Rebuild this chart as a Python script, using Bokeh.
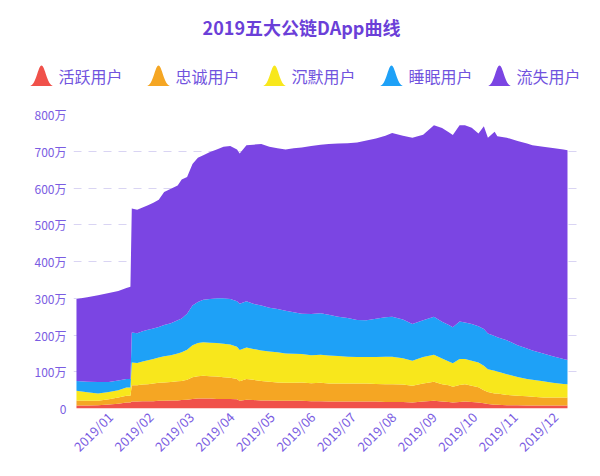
import numpy as np
import pandas as pd
from math import pi
from bokeh.plotting import figure
from bokeh.layouts import column, row
from bokeh.models import Range1d, FixedTicker, DatetimeTickFormatter, ColumnDataSource
from bokeh.core.properties import value
from bokeh.embed import file_html
from bokeh.resources import INLINE

# ---------------- data ----------------
title_text = "2019五大公链DApp曲线"
series_names = ["活跃用户", "忠诚用户", "沉默用户", "睡眠用户", "流失用户"]
series_colors = ["#F0514A", "#F5A623", "#F8E71C", "#1EA1F7", "#7B45E3"]

dates = ["2019-01-01", "2019-01-09", "2019-01-17", "2019-01-25", "2019-02-01", "2019-02-07",
         "2019-02-10", "2019-02-11", "2019-02-15", "2019-02-19", "2019-02-23", "2019-02-27",
         "2019-03-03", "2019-03-07", "2019-03-12", "2019-03-17", "2019-03-20", "2019-03-24",
         "2019-03-28", "2019-04-01", "2019-04-05", "2019-04-10", "2019-04-15", "2019-04-20",
         "2019-04-25", "2019-04-30", "2019-05-02", "2019-05-07", "2019-05-12", "2019-05-18",
         "2019-05-24", "2019-05-30", "2019-06-05", "2019-06-11", "2019-06-17", "2019-06-24",
         "2019-07-01", "2019-07-07", "2019-07-14", "2019-07-21", "2019-07-28", "2019-08-04",
         "2019-08-11", "2019-08-18", "2019-08-23", "2019-08-31", "2019-09-07", "2019-09-15",
         "2019-09-23", "2019-09-29", "2019-10-04", "2019-10-07", "2019-10-12", "2019-10-16",
         "2019-10-21", "2019-10-26", "2019-10-30", "2019-11-02", "2019-11-07", "2019-11-09",
         "2019-11-16", "2019-11-24", "2019-12-01", "2019-12-05", "2019-12-13", "2019-12-20",
         "2019-12-28", "2019-12-31"]

# values in 万
active = [8, 8, 9, 11, 13, 16, 16, 19, 19, 20, 20, 20, 21, 21, 22, 22, 23, 24, 26, 27, 27, 27, 26, 26,
          26, 25, 21, 24, 23, 22, 22, 21, 21, 21, 21, 20, 20, 19, 19, 19, 19, 19, 19, 18, 18, 18, 16, 19,
          21, 19, 18, 16, 18, 19, 18, 16, 14, 12, 10, 10, 9, 9, 8, 8, 8, 8, 8, 8]
loyal = [14, 13, 12, 14, 17, 19, 19, 44, 44, 45, 46, 48, 49, 50, 50, 52, 52, 54, 59, 61, 62, 61, 61, 59,
         58, 55, 53, 56, 55, 53, 51, 50, 49, 49, 50, 49, 50, 49, 49, 49, 49, 49, 48, 48, 48, 47, 46, 49,
         52, 47, 45, 43, 46, 47, 44, 42, 36, 33, 31, 31, 28, 26, 25, 24, 22, 22, 22, 22]
silent = [26, 23, 20, 20, 20, 22, 22, 62, 61, 63, 65, 67, 69, 71, 73, 76, 78, 82, 87, 90, 91, 91, 91, 91,
          90, 88, 85, 86, 84, 83, 82, 82, 80, 79, 77, 76, 76, 76, 75, 73, 72, 72, 73, 75, 75, 72, 68, 72,
          73, 70, 65, 64, 71, 69, 68, 67, 66, 62, 62, 60, 56, 51, 47, 46, 44, 40, 37, 36]
sleeping = [27, 29, 31, 27, 26, 23, 23, 82, 81, 82, 83, 83, 83, 85, 87, 90, 92, 98, 108, 112, 116, 119,
            122, 124, 124, 124, 126, 126, 123, 122, 119, 118, 116, 113, 110, 112, 113, 111, 107, 105,
            101, 100, 104, 107, 109, 105, 100, 100, 104, 100, 99, 98, 102, 99, 100, 99, 100, 97, 94, 93,
            93, 86, 83, 80, 76, 72, 68, 66]
lost = [223, 230, 236, 242, 244, 248, 251, 337, 336, 337, 339, 342, 346, 362, 366, 367, 378, 372, 385,
        392, 393, 400, 405, 412, 416, 413, 409, 424, 433, 440, 438, 437, 439, 446, 452, 457, 459, 465,
        471, 476, 483, 489, 491, 494, 500, 500, 507, 505, 521, 527, 525, 523, 534, 537, 534, 524, 552,
        533, 556, 547, 551, 556, 558, 558, 562, 567, 570, 571]

y_ticks = [0, 100, 200, 300, 400, 500, 600, 700, 800]
y_tick_labels = ["0", "100万", "200万", "300万", "400万", "500万", "600万", "700万", "800万"]
x_tick_dates = ["2019-01-26", "2019-02-25", "2019-03-27", "2019-04-26", "2019-05-26", "2019-06-25",
                "2019-07-25", "2019-08-24", "2019-09-23", "2019-10-23", "2019-11-22", "2019-12-22"]

# ---------------- styles ----------------
FONT = "Noto Sans CJK SC"
LABEL_COLOR = "#7A5CE2"
TITLE_COLOR = "#6B3FD8"
LEGEND_TEXT_COLOR = "#7153DE"
FRAME_LEFT, FRAME_RIGHT = 73, 577

# ---------------- header (title + legend), its own full-width frame in canvas pixels ----------------
head = figure(width=600, height=100, x_range=Range1d(0, 600), y_range=Range1d(100, 0),
              toolbar_location=None, output_backend="svg", min_border=0,
              x_axis_location=None, y_axis_location=None)
head.grid.visible = False
head.outline_line_color = None

head.text(x=[301], y=[26], text=[title_text], text_font=value(FONT), text_font_size="18px",
          text_font_style="bold", text_color=TITLE_COLOR, text_align="center", text_baseline="middle")

icon_left = [29, 146, 262, 379, 487]
icon_w, icon_h, icon_base = 24, 21, 86
t = np.linspace(-1, 1, 41)
xs, ys = [], []
for left in icon_left:
    xs.append(list(left + icon_w / 2 * (1 + t)))
    ys.append(list(icon_base - icon_h * np.exp(-(t / 0.5) ** 2)))
head.patches(xs=xs, ys=ys, fill_color=series_colors, line_color=None)
head.text(x=[l + icon_w + 5 for l in icon_left], y=[icon_base - 11] * 5, text=series_names,
          text_font=value(FONT), text_font_size="16px", text_color=LEGEND_TEXT_COLOR,
          text_align="left", text_baseline="middle")

# ---------------- main chart ----------------
df = pd.DataFrame({"date": pd.to_datetime(dates), "active": active, "loyal": loyal,
                   "silent": silent, "sleeping": sleeping, "lost": lost})
src = ColumnDataSource(df)

d0 = pd.Timestamp(dates[0]) - pd.Timedelta(hours=53)
d1 = pd.Timestamp(dates[-1]) + pd.Timedelta(hours=178)

p = figure(width=600, height=376, x_axis_type="datetime", x_range=Range1d(d0, d1),
           y_range=Range1d(0, 800), toolbar_location=None, output_backend="svg",
           min_border_left=FRAME_LEFT, min_border_right=600 - FRAME_RIGHT,
           min_border_top=14, min_border_bottom=68)
p.outline_line_color = None
p.background_fill_color = "white"
p.border_fill_color = "white"

p.varea_stack(stackers=["active", "loyal", "silent", "sleeping", "lost"], x="date",
              color=series_colors, source=src)

p.xgrid.visible = False
p.ygrid.ticker = FixedTicker(ticks=y_ticks)
p.ygrid.grid_line_color = "#D9D4F3"
p.ygrid.grid_line_dash = "8 7"
p.ygrid.grid_line_width = 1

p.yaxis.ticker = FixedTicker(ticks=y_ticks)
p.yaxis.major_label_overrides = {v: s for v, s in zip(y_ticks, y_tick_labels)}
p.yaxis.axis_line_color = None
p.yaxis.major_tick_line_color = None
p.yaxis.minor_tick_line_color = None
p.yaxis.major_tick_out = 0
p.yaxis.major_label_standoff = 7
p.yaxis.major_label_text_color = LABEL_COLOR
p.yaxis.major_label_text_font = FONT
p.yaxis.major_label_text_font_size = "12px"

tick_ms = [pd.Timestamp(d).value // 10**6 for d in x_tick_dates]
p.xaxis.ticker = FixedTicker(ticks=tick_ms)
fmt = "%Y/%m"
p.xaxis.formatter = DatetimeTickFormatter(microseconds=fmt, milliseconds=fmt, seconds=fmt, minsec=fmt,
                                          minutes=fmt, hourmin=fmt, hours=fmt, days=fmt, months=fmt,
                                          years=fmt, context=None)
p.xaxis.axis_line_color = None
p.xaxis.major_tick_line_color = None
p.xaxis.minor_tick_line_color = None
p.xaxis.major_tick_out = 0
p.xaxis.major_label_standoff = 6
p.xaxis.major_label_orientation = pi / 4
p.xaxis.major_label_text_color = LABEL_COLOR
p.xaxis.major_label_text_font = FONT
p.xaxis.major_label_text_font_size = "13px"

# the header sits in its own row so that its frame is not aligned with the chart frame
layout = column(row(head), p, spacing=0)
open("out.html", "w").write(file_html(layout, INLINE))
